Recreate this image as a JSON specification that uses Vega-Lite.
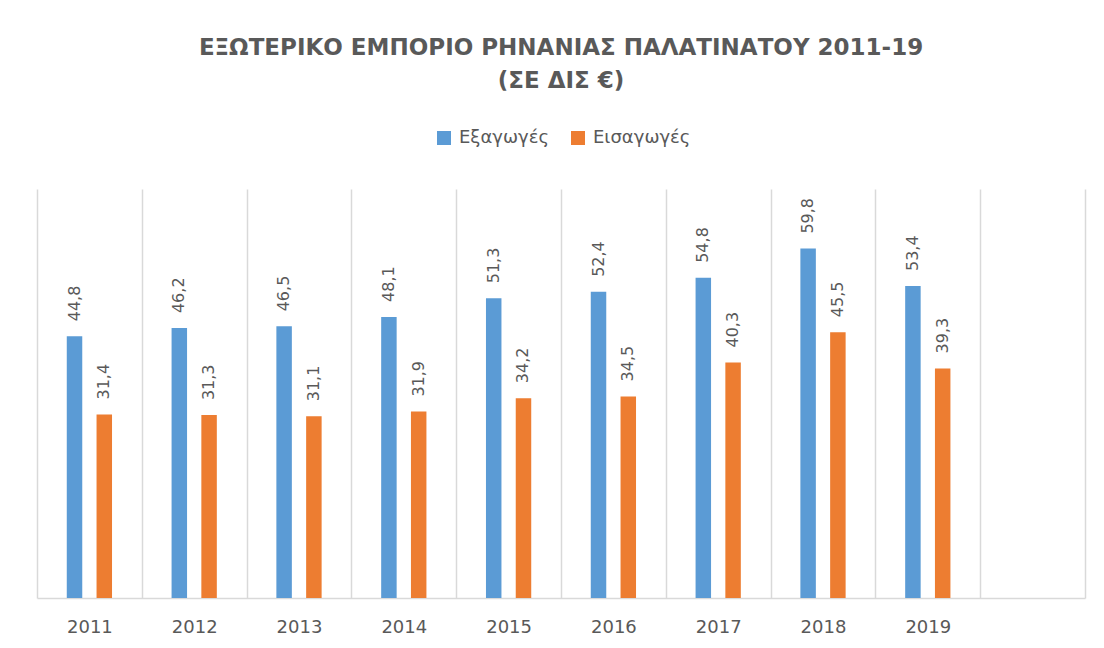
{
  "$schema": "https://vega.github.io/schema/vega-lite/v6.json",
  "width": 1048,
  "height": 409,
  "autosize": "none",
  "padding": {"left": 37, "top": 189, "right": 19, "bottom": 50},
  "background": "white",
  "config": {
    "locale": {"number": {"decimal": ",", "thousands": ".", "grouping": [3], "currency": ["", " €"]}},
    "view": {"stroke": null},
    "font": "DejaVu Sans"
  },
  "title": {
    "text": ["ΕΞΩΤΕΡΙΚΟ ΕΜΠΟΡΙΟ ΡΗΝΑΝΙΑΣ ΠΑΛΑΤΙΝΑΤΟΥ 2011-19", "(ΣΕ ΔΙΣ €)"],
    "anchor": "middle",
    "font": "DejaVu Sans",
    "fontSize": 23,
    "fontWeight": "bold",
    "color": "#595959",
    "lineHeight": 33,
    "offset": 36
  },
  "data": {
    "values": [
      {"year": "2011", "series": "Εξαγωγές", "value": 44.8},
      {"year": "2011", "series": "Εισαγωγές", "value": 31.4},
      {"year": "2012", "series": "Εξαγωγές", "value": 46.2},
      {"year": "2012", "series": "Εισαγωγές", "value": 31.3},
      {"year": "2013", "series": "Εξαγωγές", "value": 46.5},
      {"year": "2013", "series": "Εισαγωγές", "value": 31.1},
      {"year": "2014", "series": "Εξαγωγές", "value": 48.1},
      {"year": "2014", "series": "Εισαγωγές", "value": 31.9},
      {"year": "2015", "series": "Εξαγωγές", "value": 51.3},
      {"year": "2015", "series": "Εισαγωγές", "value": 34.2},
      {"year": "2016", "series": "Εξαγωγές", "value": 52.4},
      {"year": "2016", "series": "Εισαγωγές", "value": 34.5},
      {"year": "2017", "series": "Εξαγωγές", "value": 54.8},
      {"year": "2017", "series": "Εισαγωγές", "value": 40.3},
      {"year": "2018", "series": "Εξαγωγές", "value": 59.8},
      {"year": "2018", "series": "Εισαγωγές", "value": 45.5},
      {"year": "2019", "series": "Εξαγωγές", "value": 53.4},
      {"year": "2019", "series": "Εισαγωγές", "value": 39.3}
    ]
  },
  "encoding": {
    "x": {
      "field": "year",
      "type": "nominal",
      "scale": {"domain": ["2011","2012","2013","2014","2015","2016","2017","2018","2019"," "], "paddingInner": 0, "paddingOuter": 0},
      "axis": {
        "title": null,
        "labelAngle": 0,
        "labelFont": "DejaVu Sans",
        "labelFontSize": 18,
        "labelColor": "#595959",
        "labelPadding": 20,
        "ticks": false,
        "tickBand": "extent",
        "grid": true,
        "gridColor": "#D9D9D9",
        "gridWidth": 1.5,
        "domainColor": "#D9D9D9",
        "domainWidth": 1.5
      }
    },
    "xOffset": {
      "field": "series",
      "type": "nominal",
      "scale": {"domain": ["Εξαγωγές", "Εισαγωγές"], "paddingInner": 0.48, "paddingOuter": 1.18}
    },
    "y": {
      "field": "value",
      "type": "quantitative",
      "scale": {"domain": [0, 70]},
      "axis": null
    }
  },
  "layer": [
    {
      "mark": {"type": "bar"},
      "encoding": {
        "color": {
          "field": "series",
          "type": "nominal",
          "scale": {"domain": ["Εξαγωγές", "Εισαγωγές"], "range": ["#5B9BD5", "#ED7D31"]},
          "legend": {
            "title": null,
            "orient": "none",
            "direction": "horizontal",
            "legendX": 398,
            "legendY": -60,
            "symbolType": "square",
            "symbolSize": 196,
            "symbolStrokeWidth": 0,
            "labelFont": "DejaVu Sans",
            "labelFontSize": 18,
            "labelColor": "#595959",
            "columnPadding": 20,
            "labelOffset": 6
          }
        }
      }
    },
    {
      "mark": {"type": "text", "angle": 270, "align": "left", "baseline": "middle", "dx": 15, "fontSize": 16, "color": "#595959", "font": "DejaVu Sans"},
      "encoding": {
        "text": {"field": "value", "type": "quantitative", "format": ".1f"}
      }
    }
  ]
}
